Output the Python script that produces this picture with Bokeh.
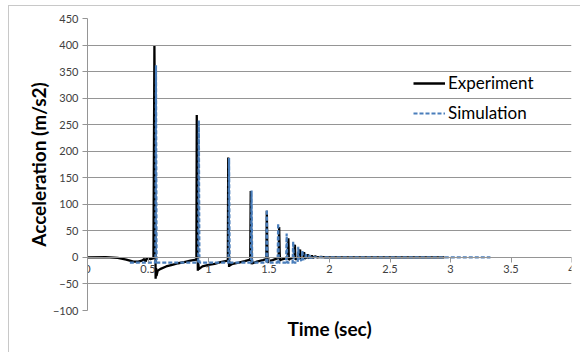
from bokeh.plotting import figure
from bokeh.models import Range1d, Title, Legend, LegendItem, NumeralTickFormatter
from bokeh.embed import file_html
from bokeh.resources import INLINE

# Experiment (measured acceleration)
exp_t = [0.0, 0.15, 0.25, 0.32, 0.38, 0.42, 0.45, 0.47, 0.48, 0.49, 0.52, 0.545,
         0.553, 0.558, 0.563, 0.567, 0.57, 0.58, 0.6, 0.65, 0.7, 0.75, 0.8, 0.85, 0.9,
         0.903, 0.908, 0.912, 0.916, 0.92, 0.95, 1.0, 1.05, 1.1, 1.16,
         1.163, 1.167, 1.17, 1.174, 1.178, 1.2, 1.25, 1.3, 1.345,
         1.349, 1.353, 1.356, 1.36, 1.365, 1.4, 1.45, 1.478,
         1.482, 1.486, 1.489, 1.495, 1.53, 1.58,
         1.584, 1.588, 1.591, 1.6, 1.655,
         1.66, 1.664, 1.67, 1.71, 1.714, 1.718, 1.74, 1.757, 1.76, 1.785,
         1.79, 1.795, 1.815, 1.82, 1.825, 1.85, 1.855, 1.86, 1.88, 1.9, 1.93, 1.96,
         2.2, 2.5, 2.8, 2.95]
exp_a = [0, 0.5, -1, -4, -8, -8, -6, -3, -8, -2, -3, -2,
         398, 200, -40, -20, -35, -25, -22, -17, -14, -11, -9, -6, -4,
         268, 100, -25, -12, -22, -17, -14, -12, -9, -6,
         188, 60, -18, -8, -15, -12, -10, -7, -4,
         125, 40, -13, -6, -11, -8, -5, -3,
         88, 20, -10, -7, -5, -1,
         57, 10, -6, -4, -1,
         36, -5, -3, 0, 24, -4, -1, 15, -3, 0,
         10, -2, 0, 6, -1, 0, 4, -1, 2, 0, 1, 0,
         0, 0, 0, 0]

# Simulation
sim_t = [0.35, 0.561, 0.566, 0.571, 0.915, 0.92, 0.925, 1.165, 1.17, 1.175,
         1.351, 1.356, 1.361, 1.477, 1.482, 1.487, 1.571, 1.576, 1.581,
         1.641, 1.646, 1.651, 1.695, 1.70, 1.705, 1.737, 1.742, 1.747,
         1.771, 1.776, 1.781, 1.80, 1.805, 1.81, 1.83, 1.835, 1.84,
         1.86, 1.865, 1.87, 1.9, 1.95, 3.33]
sim_a = [-9.8, -9.8, 362, -9.8, -9.8, 258, -9.8, -9.8, 187, -9.8,
         -9.8, 126, -9.8, -9.8, 90, -9.8, -9.8, 64, -9.8,
         -9.8, 45, -9.8, -9.8, 30, -9.8, -9.8, 20, -6,
         -5, 13, -4, -3, 8, -2, -1, 5, -1,
         0, 3, 0, 1, 0, 0]

x_ticks = [0, 0.5, 1, 1.5, 2, 2.5, 3, 3.5, 4]
y_ticks = [-100, -50, 0, 50, 100, 150, 200, 250, 300, 350, 400, 450]

FONT = "Lato"
GRID = "#959595"
TICKC = "#404040"

p = figure(width=572, height=347, output_backend="svg", toolbar_location=None,
           x_range=Range1d(0, 4), y_range=Range1d(-100, 450),
           min_border_left=78, min_border_top=12, min_border_right=10,
           min_border_bottom=43,
           styles={"margin-left": "8px", "margin-top": "5px",
                   "border-top": "1px solid #c8c8c8",
                   "border-left": "1px solid #c8c8c8"})
p.outline_line_color = None
p.background_fill_color = "white"
p.border_fill_color = "white"

p.xgrid.visible = False
p.ygrid.grid_line_color = GRID
p.ygrid.grid_line_width = 1

p.yaxis.ticker = y_ticks
p.yaxis.axis_line_color = GRID
p.yaxis.major_tick_line_color = GRID
p.yaxis.major_tick_out = 5
p.yaxis.major_tick_in = 0
p.yaxis.minor_tick_line_color = None
p.yaxis.major_label_text_font = FONT
p.yaxis.major_label_text_font_size = "11px"
p.yaxis.major_label_text_color = TICKC
p.yaxis.major_label_standoff = 4
p.yaxis.axis_label = "Acceleration (m/s2)"
p.yaxis.axis_label_text_font = FONT
p.yaxis.axis_label_text_font_size = "19px"
p.yaxis.axis_label_text_font_style = "bold"
p.yaxis.axis_label_text_color = "black"
p.yaxis.axis_label_standoff = 0

p.xaxis.ticker = x_ticks
p.xaxis.formatter = NumeralTickFormatter(format="0.[0]")
p.xaxis.fixed_location = 0
p.xaxis.axis_line_color = GRID
p.xaxis.major_tick_line_color = GRID
p.xaxis.major_tick_out = 5
p.xaxis.major_tick_in = 0
p.xaxis.minor_tick_line_color = None
p.xaxis.major_label_text_font = FONT
p.xaxis.major_label_text_font_size = "11px"
p.xaxis.major_label_text_color = TICKC
p.xaxis.major_label_standoff = 3

p.add_layout(Title(text="Time (sec)", align="center", text_font=FONT,
                   text_font_size="19px", text_font_style="bold",
                   text_color="black", standoff=8), "below")

r1 = p.line(exp_t, exp_a, line_color="black", line_width=2.3)
r2 = p.line(sim_t, sim_a, line_color="#4a7ebb", line_width=2.2, line_dash="4 2")

legend = Legend(items=[LegendItem(label="Experiment", renderers=[r1]),
                       LegendItem(label="Simulation", renderers=[r2])],
                location=(326, 187), margin=0, padding=0,
                glyph_width=32, glyph_height=20, label_height=20,
                label_standoff=3, spacing=9,
                label_text_font=FONT, label_text_font_size="17px",
                label_text_color="black",
                background_fill_alpha=0, border_line_color=None)
p.add_layout(legend)

open("out.html", "w").write(file_html(p, INLINE))
